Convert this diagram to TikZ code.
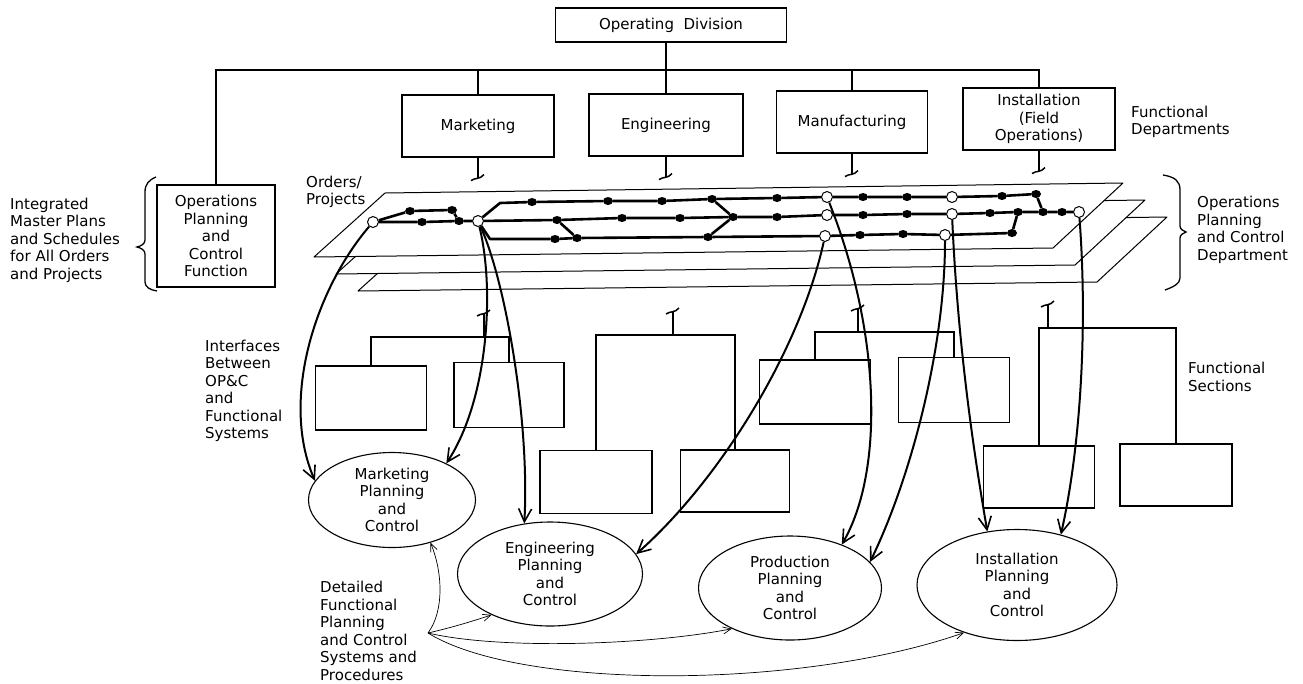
\documentclass[tikz,border=0pt]{standalone}
\usepackage{fontspec}
\setmainfont{DejaVu Sans}
\usetikzlibrary{arrows.meta,shapes.geometric}
\tikzset{font=\fontsize{15}{17.5}\selectfont}
\tikzset{
  box/.style={draw, line width=1.1pt, inner sep=0pt, align=center},
  plan/.style={draw, ellipse, line width=1.1pt, inner sep=0pt, align=center},
  txt/.style={align=left, anchor=west, inner sep=0pt},
  orgline/.style={line width=1.8pt},
  sheet/.style={draw, fill=white, line width=1pt, line join=round},
  dot/.style={ellipse, fill, inner sep=0pt, minimum width=10pt, minimum height=8pt},
  hub/.style={circle, draw, fill=white, line width=1pt, inner sep=0pt, minimum size=11pt},
  track/.style={line width=2.6pt, line join=round},
  link/.style={line width=2pt, -{Straight Barb[length=13pt,width=13pt,line width=1.6pt]}},
  feed/.style={line width=0.7pt, -{Straight Barb[length=8pt,width=7pt]}},
  brkdown/.pic={
    \draw[line width=1.5pt] (0,0) -- (0,20);
    \draw[line width=1.5pt] (-7,23) .. controls (-3,20) and (2,22) .. (6,17);
  },
  brkup/.pic={
    \draw[line width=1.5pt] (0,0) -- (0,-24);
    \draw[line width=1.5pt] (-7,-21) .. controls (-3,-24) and (2,-22) .. (6,-27);
  },
}

\begin{document}
\begin{tikzpicture}[x=1pt,y=-1pt]
  \useasboundingbox (0,0) rectangle (1303,683);

  % order sheets
  \draw[sheet] (429,227) -- (1167,217) -- (1097,282) -- (358,291) -- cycle;
  \draw[sheet] (407,210) -- (1145,200) -- (1075,265) -- (336,274) -- cycle;
  \draw[sheet] (385,193) -- (1123,183) -- (1053,248) -- (314,257) -- cycle;

  % departments
  \node[box, minimum width=231pt, minimum height=34pt] (opdiv) at (671,25) {Operating\ \ Division};
  \node[box, minimum width=152pt, minimum height=62pt] (mkt) at (478,126) {Marketing};
  \node[box, minimum width=154pt, minimum height=62pt] (eng) at (666,125) {Engineering};
  \node[box, minimum width=151pt, minimum height=62pt] (mfg) at (852,122) {Manufacturing};
  \node[box, minimum width=152pt, minimum height=62pt] (inst) at (1039,119) {Installation\\(Field\\Operations)};
  \node[box, minimum width=118pt, minimum height=102pt] (opc) at (216,236) {Operations\\Planning\\and\\Control\\Function};

  \coordinate (bar) at (0,70);
  \draw[orgline] (opc.north) |- (inst.north |- bar) -- (inst.north);
  \draw[orgline] (mkt.north) -- (mkt.north |- bar);
  \draw[orgline] (mfg.north) -- (mfg.north |- bar);
  \draw[orgline] (opdiv.south -| eng.north) -- (eng.north);
  \pic at (mkt.south) {brkdown};
  \pic at (eng.south) {brkdown};
  \pic at (mfg.south) {brkdown};
  \pic at (inst.south) {brkdown};

  % functional sections
  \node[box, minimum width=111pt, minimum height=64pt] (fs1) at (371,398) {};
  \node[box, minimum width=110pt, minimum height=65pt] (fs2) at (509,395) {};
  \node[box, minimum width=112pt, minimum height=63pt] (fs3) at (596,482) {};
  \node[box, minimum width=109pt, minimum height=62pt] (fs4) at (735,481) {};
  \node[box, minimum width=111pt, minimum height=64pt] (fs5) at (815,392) {};
  \node[box, minimum width=111pt, minimum height=65pt] (fs6) at (954,390) {};
  \node[box, minimum width=111pt, minimum height=62pt] (fs7) at (1039,477) {};
  \node[box, minimum width=112pt, minimum height=62pt] (fs8) at (1176,475) {};
  \coordinate (g1) at (484,337);
  \coordinate (g2) at (673,335);
  \coordinate (g3) at (858,332);
  \coordinate (g4) at (1048,328);
  \draw[orgline] (fs1.north) |- (g1) -| (fs2.north);
  \draw[orgline] (fs3.north) |- (g2) -| (fs4.north);
  \draw[orgline] (fs5.north) |- (g3) -| (fs6.north);
  \draw[orgline] (fs7.north) |- (g4) -| (fs8.north);
  \pic at (g1) {brkup};
  \pic at (g2) {brkup};
  \pic at (g3) {brkup};
  \pic at (g4) {brkup};

  % planning and control functions
  \node[plan, minimum width=167pt, minimum height=95pt] (mpc) at (392,500) {Marketing\\Planning\\and\\Control};
  \node[plan, minimum width=185pt, minimum height=104pt] (epc) at (550,574) {Engineering\\Planning\\and\\Control};
  \node[plan, minimum width=183pt, minimum height=104pt] (ppc) at (790,588) {Production\\Planning\\and\\Control};
  \node[plan, minimum width=200pt, minimum height=111pt] (ipc) at (1017,585) {Installation\\Planning\\and\\Control};

  % labels
  \node[txt] (intlbl) at (10,240) {Integrated\\Master Plans\\and Schedules\\for All Orders\\and Projects};
  \node[txt] (ordlbl) at (306,192) {Orders/\\Projects};
  \node[txt] (deplbl) at (1131,122) {Functional\\Departments};
  \node[txt] (opdlbl) at (1197,230) {Operations\\Planning\\and Control\\Department};
  \node[txt] (seclbl) at (1188,377) {Functional\\Sections};
  \node[txt] (ifclbl) at (205,391) {Interfaces\\Between\\OP\&C\\and\\Functional\\Systems};
  \node[txt] (detlbl) at (320,631) {Detailed\\Functional\\Planning\\and Control\\Systems and\\Procedures};

  % braces
  \draw[line width=1.3pt] (156,177) .. controls (149,180) and (145,184) .. (145,192)
    -- (145,240) .. controls (145,244) and (141,246) .. (137,247)
    .. controls (141,248) and (145,250) .. (145,254)
    -- (145,282) .. controls (145,287) and (150,290) .. (157,291);
  \draw[line width=1.3pt] (1163,175) .. controls (1175,177) and (1180,181) .. (1180,190)
    -- (1180,226) .. controls (1180,229) and (1183,231) .. (1186,232)
    .. controls (1183,233) and (1180,235) .. (1180,238)
    -- (1180,278) .. controls (1180,284) and (1173,287) .. (1165,290);

  % order network
  \node[hub] (oa) at (373,222) {};
  \node[hub] (ob) at (478,221) {};
  \node[hub] (oct) at (827,197) {};
  \node[hub] (ocm) at (827,215) {};
  \node[hub] (ocl) at (825,236) {};
  \node[hub] (odt) at (952,197) {};
  \node[hub] (odm) at (952,214) {};
  \node[hub] (odl) at (945,235) {};
  \node[hub] (oe) at (1079,212) {};
  \foreach \n/\x/\y in {p1/410/211, p2/452/210, p3/459/221, p4/422/222,
      t1/532/202, t2/608/201, t3/662/201, t4/712/199, t5/777/198,
      t6/863/197, t7/907/197, t8/1002/196, t9/1036/194,
      m1/557/220, m2/622/218, m3/680/218, jm/733/217, m4/777/217,
      m5/863/215, m6/907/214, m7/990/213, jl/1018/212, jr/1043/212, m8/1062/212,
      l1/555/239, l2/577/238, l3/708/237, l4/860/235, l5/903/234, l6/1012/233}
    \node[dot] (\n) at (\x,\y) {};
  \coordinate (cu) at (500,203);
  \coordinate (cl) at (490,239);

  \draw[track] (oa) -- (p1) -- (p2) -- (p3) -- (ob);
  \draw[track] (oa) -- (p4) -- (p3);
  \draw[track] (ob) -- (cu) -- (t1) -- (t2) -- (t3) -- (t4) -- (t5) -- (oct)
    -- (t6) -- (t7) -- (odt) -- (t8) -- (t9) -- (jr);
  \draw[track] (ob) -- (m1) -- (m2) -- (m3) -- (jm) -- (m4) -- (ocm)
    -- (m5) -- (m6) -- (odm) -- (m7) -- (jl) -- (jr) -- (m8) -- (oe);
  \draw[track] (ob) -- (cl) -- (l1) -- (l2) -- (l3) -- (ocl)
    -- (l4) -- (l5) -- (odl) -- (l6) -- (jl);
  \draw[track] (m1) -- (l2) (t4) -- (jm) (l3) -- (jm);

  % interfaces
  \draw[link] (oa) .. controls (315,290) and (280,400) .. (mpc.166);
  \draw[link] (ob) .. controls (495,290) and (488,400) .. (mpc.34);
  \draw[link] (ob) .. controls (505,280) and (530,420) .. (epc.117);
  \draw[link] (ocl) .. controls (800,350) and (720,480) .. (epc.13);
  \draw[link] (oct) .. controls (880,330) and (885,470) .. (ppc.40);
  \draw[link] (odl) .. controls (945,350) and (910,480) .. (ppc.18);
  \draw[link] (odm) .. controls (958,350) and (975,460) .. (ipc.119);
  \draw[link] (oe) .. controls (1088,330) and (1080,450) .. (ipc.49);

  % detailed systems
  \coordinate (dfp) at (428,633);
  \draw[feed] (dfp) .. controls (445,610) and (442,570) .. (mpc.-48);
  \draw[feed] (dfp) .. controls (450,628) and (470,622) .. (epc.-145);
  \draw[feed] (dfp) .. controls (500,650) and (650,645) .. (ppc.-145);
  \draw[feed] (dfp) .. controls (520,690) and (800,690) .. (ipc.-138);
\end{tikzpicture}
\end{document}
